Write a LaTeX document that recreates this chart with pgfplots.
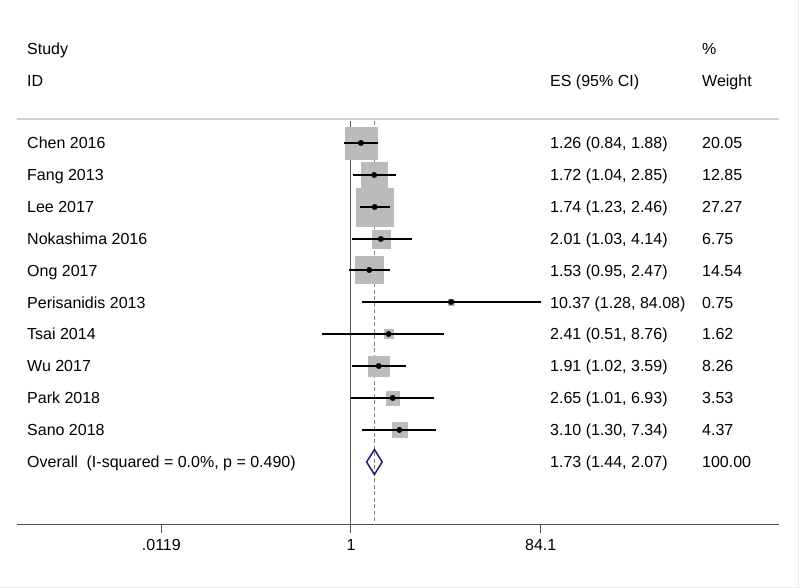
\documentclass[border=0pt]{standalone}
\usepackage{pgfplots}
\pgfplotsset{compat=1.18}
\usepackage{pgfplotstable}
\usepackage{fontspec}
\setmainfont{Liberation Sans}
\definecolor{boxgray}{RGB}{187,187,187}
\definecolor{refred}{RGB}{165,115,125}
\definecolor{diamondblue}{RGB}{30,30,110}
\definecolor{axgray}{RGB}{80,80,80}
\definecolor{sepgray}{RGB}{210,210,210}

% y = minus the row's pixel position from the top
\pgfplotstableread{
y es lo hi w
-143 1.26 0.84 1.88 20.05
-175 1.72 1.04 2.85 12.85
-207 1.74 1.23 2.46 27.27
-239 2.01 1.03 4.14 6.75
-270 1.53 0.95 2.47 14.54
-302 10.37 1.28 84.08 0.75
-334 2.41 0.51 8.76 1.62
-366 1.91 1.02 3.59 8.26
-398 2.65 1.01 6.93 3.53
-430 3.10 1.30 7.34 4.37
}\studies

\pgfplotstableread{
x y
0.84 -143
1.88 -143
nan nan
1.04 -175
2.85 -175
nan nan
1.23 -207
2.46 -207
nan nan
1.03 -239
4.14 -239
nan nan
0.95 -270
2.47 -270
nan nan
1.28 -302
84.08 -302
nan nan
0.51 -334
8.76 -334
nan nan
1.02 -366
3.59 -366
nan nan
1.01 -398
6.93 -398
nan nan
1.30 -430
7.34 -430
}\cis

\begin{document}
\begin{tikzpicture}[font=\fontsize{16bp}{19bp}\selectfont]
\useasboundingbox (0,0) rectangle (800bp,588bp);
\begin{axis}[
  at={(17.3bp,63.3bp)}, anchor=south west,
  width=761.4bp, height=524.7bp, scale only axis,
  xmode=log, xmin=4.11e-4, xmax=21880,
  ymin=-524.7, ymax=0,
  axis x line=bottom, axis y line=none,
  axis line style={-, draw=axgray, line width=1.5bp},
  xtick={0.0119,1,84.1}, xticklabels={.0119,1,84.1},
  xminorticks=false, ytick=\empty,
  tick align=outside, major tick length=8bp,
  tick style={draw=axgray, line width=1bp},
  /pgf/number format/assume math mode=true,
  xticklabel style={font=\fontsize{16bp}{19bp}\selectfont, yshift=-3bp},
  clip=false, clip marker paths=true,
]
% reference line at 1 and overall effect line
\addplot[draw=black!65, line width=1bp] coordinates {(1,-121) (1,-524.7)};
\addplot[draw=refred, line width=1.3bp, dash pattern=on 4bp off 2.5bp] coordinates {(1.73,-121) (1.73,-524.7)};
% weight boxes (area proportional to weight)
\addplot[scatter, only marks, mark=square*,
  scatter/use mapped color={draw=boxgray, fill=boxgray, line width=0.2bp},
  visualization depends on={sqrt(52*\thisrow{w})/2-0.1 \as \hs},
  scatter/@pre marker code/.append style={/tikz/mark size=\hs}]
  table[x=es, y=y] {\studies};
% confidence intervals
\addplot[black, line width=1.7bp, unbounded coords=jump, mark=none] table[x=x, y=y] {\cis};
% point estimates
\addplot[only marks, mark=*, mark size=2.8bp, mark options={draw=black, fill=black, line width=0.2bp}] table[x=es, y=y] {\studies};
% overall diamond
\addplot[draw=diamondblue, line width=1.5bp, line join=miter] coordinates {(1.44,-462) (1.73,-449.5) (2.07,-462) (1.73,-474.5)} -- cycle;
\end{axis}

\begin{scope}[x=1bp, y=-1bp, yshift=588bp]
\draw[sepgray, line width=2bp] (17.3,119) -- (778.7,119);
\draw[black!8, line width=1bp] (798,0) -- (798,588);
\draw[black!8, line width=1bp] (0,587.5) -- (800,587.5);
\tikzset{every node/.style={anchor=base west, inner sep=0pt}}
\node at (27,54.3) {Study};
\node at (27,86.7) {ID};
\node at (550,86.7) {ES (95\% CI)};
\node at (702,54.3) {\%};
\node at (702,86.7) {Weight};
% rows
\node at (27,148.8) {Chen 2016};
\node at (27,180.7) {Fang 2013};
\node at (27,212.6) {Lee 2017};
\node at (27,244.4) {Nokashima 2016};
\node at (27,276.3) {Ong 2017};
\node at (27,308.2) {Perisanidis 2013};
\node at (27,340.0) {Tsai 2014};
\node at (27,371.9) {Wu 2017};
\node at (27,403.8) {Park 2018};
\node at (27,435.6) {Sano 2018};
\node at (27,467.5) {Overall\hspace{0.55em}(I-squared = 0.0\%, p = 0.490)};
\node at (550,148.8) {1.26 (0.84, 1.88)};
\node at (550,180.7) {1.72 (1.04, 2.85)};
\node at (550,212.6) {1.74 (1.23, 2.46)};
\node at (550,244.4) {2.01 (1.03, 4.14)};
\node at (550,276.3) {1.53 (0.95, 2.47)};
\node at (550,308.2) {10.37 (1.28, 84.08)};
\node at (550,340.0) {2.41 (0.51, 8.76)};
\node at (550,371.9) {1.91 (1.02, 3.59)};
\node at (550,403.8) {2.65 (1.01, 6.93)};
\node at (550,435.6) {3.10 (1.30, 7.34)};
\node at (550,467.5) {1.73 (1.44, 2.07)};
\node at (702,148.8) {20.05};
\node at (702,180.7) {12.85};
\node at (702,212.6) {27.27};
\node at (702,244.4) {6.75};
\node at (702,276.3) {14.54};
\node at (702,308.2) {0.75};
\node at (702,340.0) {1.62};
\node at (702,371.9) {8.26};
\node at (702,403.8) {3.53};
\node at (702,435.6) {4.37};
\node at (702,467.5) {100.00};
\end{scope}
\end{tikzpicture}
\end{document}
